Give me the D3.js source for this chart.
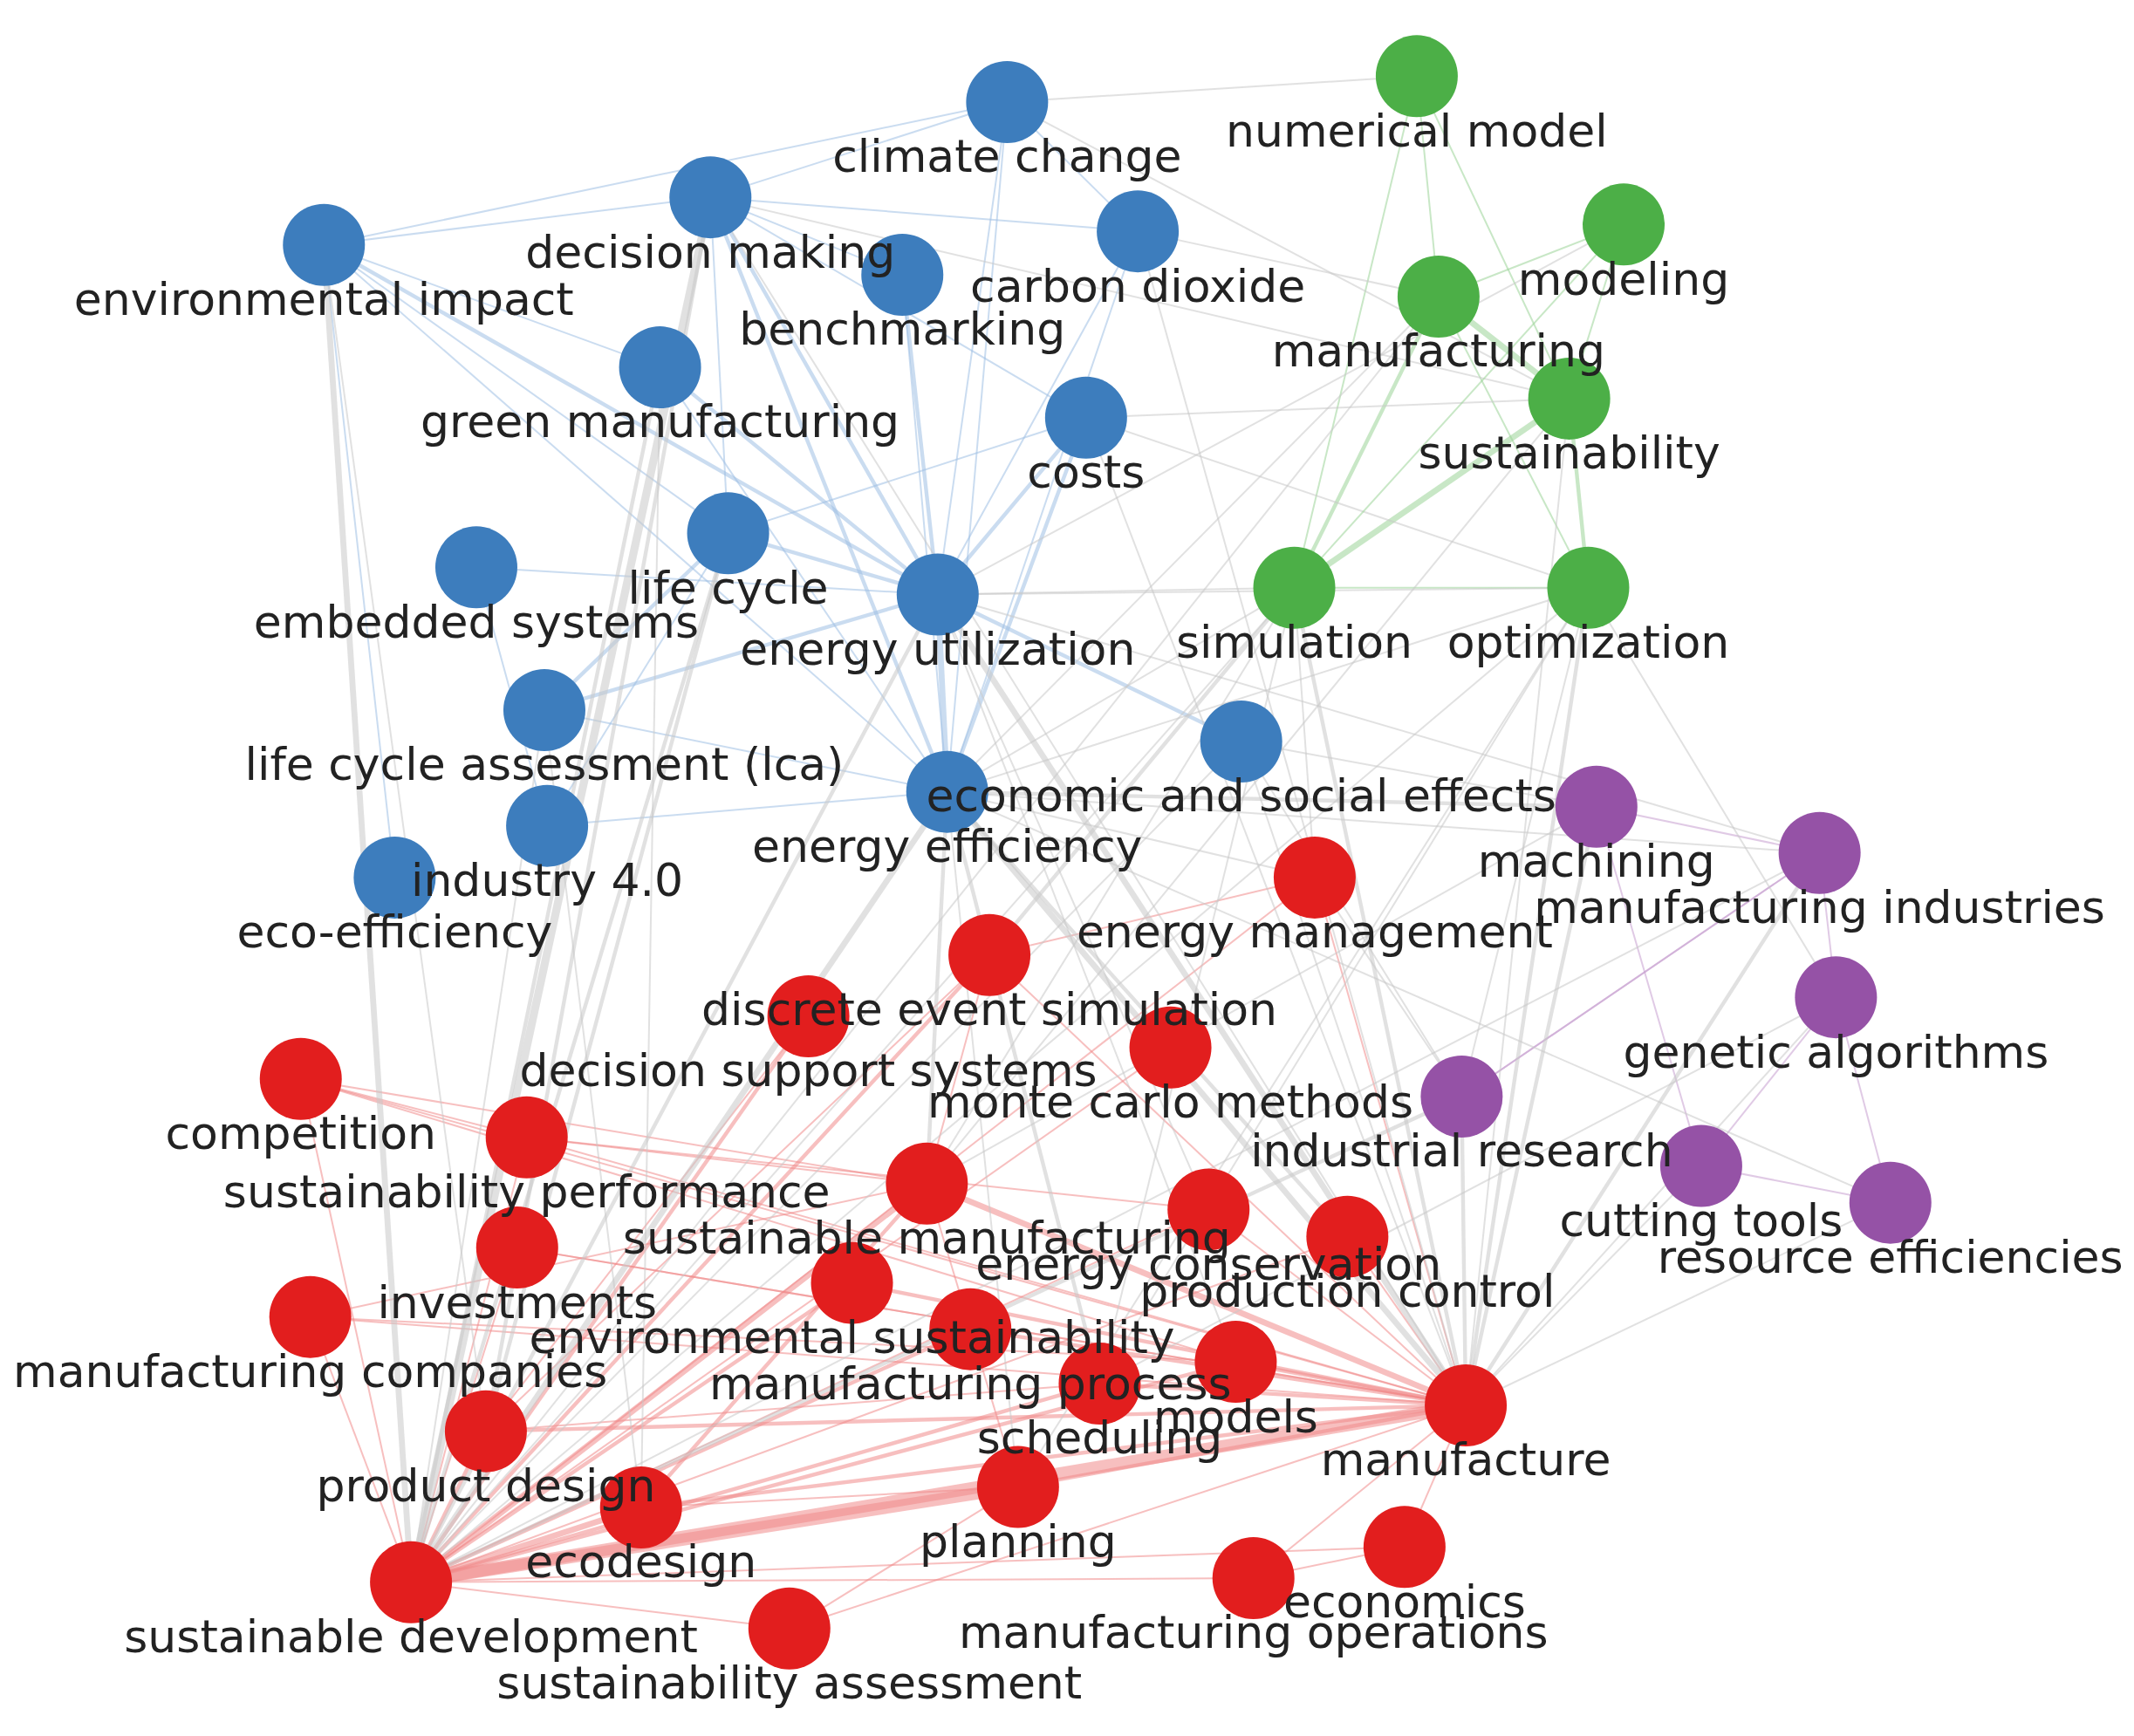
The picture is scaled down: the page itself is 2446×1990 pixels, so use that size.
<!DOCTYPE html>
<html><head><meta charset="utf-8">
<script src="https://cdn.jsdelivr.net/npm/d3@7"></script>
<style>body{margin:0;background:#fff}</style>
</head><body>
<svg id="chart" width="2446" height="1990"></svg>
<script>
// keyword map, node positions (layout units ~1568x1276)
var blueNodes = [
  ["climate change",740,75],["decision making",522,145],["environmental impact",238,180],
  ["carbon dioxide",836,170],["benchmarking",663,202],["green manufacturing",485,270],
  ["costs",798,307],["life cycle",535,392],["embedded systems",350,417],
  ["energy utilization",689,437],["life cycle assessment (lca)",400,522],
  ["economic and social effects",912,545],["energy efficiency",696,582],
  ["industry 4.0",402,607],["eco-efficiency",290,645]
];
var greenNodes = [
  ["numerical model",1041,56],["modeling",1193,165],["manufacturing",1057,218],
  ["sustainability",1153,293],["simulation",951,432],["optimization",1167,432]
];
var purpleNodes = [
  ["machining",1173,593],["manufacturing industries",1337,627],["genetic algorithms",1349,733],
  ["industrial research",1074,806],["cutting tools",1250,857],["resource efficiencies",1389,884]
];
var redNodes = [
  ["energy management",966,645],["discrete event simulation",727,702],
  ["decision support systems",594,747],["monte carlo methods",860,770],
  ["competition",221,793],["sustainability performance",387,836],
  ["sustainable manufacturing",681,870],["energy conservation",888,889],
  ["production control",990,909],["investments",380,917],
  ["environmental sustainability",626,943],["manufacturing companies",228,968],
  ["manufacturing process",713,977],["models",908,1001],["scheduling",808,1017],
  ["manufacture",1077,1033],["product design",357,1052],["ecodesign",471,1108],
  ["planning",748,1093],["economics",1032,1137],["sustainable development",302,1163],
  ["manufacturing operations",921,1160],["sustainability assessment",580,1197]
];
// links: [source, target, weight]
var links = [
  ["energy utilization","decision making",2],["energy utilization","climate change",1],
  ["energy utilization","carbon dioxide",1],["energy utilization","benchmarking",2],
  ["energy utilization","green manufacturing",2],["energy utilization","costs",2],
  ["energy utilization","life cycle",2],["energy utilization","environmental impact",2],
  ["energy utilization","energy efficiency",3],["energy utilization","economic and social effects",2],
  ["energy utilization","embedded systems",1],["energy utilization","life cycle assessment (lca)",2],
  ["decision making","environmental impact",1],["decision making","climate change",1],
  ["decision making","carbon dioxide",1],["decision making","benchmarking",1],
  ["decision making","costs",1],["decision making","life cycle",1],["decision making","energy efficiency",2],
  ["environmental impact","life cycle",1],["environmental impact","green manufacturing",1],
  ["environmental impact","energy efficiency",1],["climate change","carbon dioxide",1],
  ["climate change","energy efficiency",1],["climate change","environmental impact",1],
  ["carbon dioxide","energy efficiency",1],["costs","energy efficiency",2],["costs","life cycle",1],
  ["life cycle","life cycle assessment (lca)",2],["life cycle","industry 4.0",1],
  ["green manufacturing","energy efficiency",1],["embedded systems","industry 4.0",1],
  ["eco-efficiency","environmental impact",1],["industry 4.0","energy efficiency",1],
  ["benchmarking","energy efficiency",1],["life cycle assessment (lca)","energy efficiency",1],
  ["numerical model","manufacturing",1],["numerical model","sustainability",1],
  ["numerical model","simulation",1],["modeling","manufacturing",1],["modeling","sustainability",1],
  ["manufacturing","sustainability",3],["manufacturing","simulation",2],["manufacturing","optimization",1],
  ["sustainability","simulation",3],["sustainability","optimization",2],["simulation","optimization",1],
  ["machining","manufacturing industries",1],["machining","cutting tools",1],
  ["manufacturing industries","genetic algorithms",1],["manufacturing industries","industrial research",1],
  ["genetic algorithms","cutting tools",1],["cutting tools","resource efficiencies",1],
  ["industrial research","manufacturing industries",1],["genetic algorithms","resource efficiencies",1],
  ["sustainable development","ecodesign",3],["sustainable development","planning",6],
  ["sustainable development","manufacture",6],["sustainable development","sustainable manufacturing",3],
  ["sustainable development","environmental sustainability",2],["sustainable development","product design",2],
  ["sustainable development","manufacturing process",2],["sustainable development","scheduling",2],
  ["sustainable development","models",2],["sustainable development","competition",1],
  ["sustainable development","sustainability performance",1],["sustainable development","investments",1],
  ["sustainable development","manufacturing companies",1],["sustainable development","discrete event simulation",2],
  ["sustainable development","decision support systems",2],["sustainable development","energy management",1],
  ["sustainable development","monte carlo methods",1],["sustainable development","energy conservation",1],
  ["sustainable development","production control",1],["sustainable development","economics",1],
  ["sustainable development","manufacturing operations",1],["sustainable development","sustainability assessment",1],
  ["manufacture","sustainable manufacturing",3],["manufacture","planning",2],
  ["manufacture","environmental sustainability",2],["manufacture","manufacturing process",2],
  ["manufacture","scheduling",2],["manufacture","models",2],["manufacture","product design",2],
  ["manufacture","ecodesign",2],["manufacture","energy management",1],["manufacture","production control",1],
  ["manufacture","energy conservation",1],["manufacture","economics",1],["manufacture","manufacturing companies",1],
  ["manufacture","competition",1],["manufacture","sustainability performance",1],["manufacture","investments",1],
  ["manufacture","discrete event simulation",1],["manufacture","manufacturing operations",1],
  ["competition","sustainable manufacturing",1],["competition","sustainability performance",1],
  ["competition","models",1],["sustainability performance","sustainable manufacturing",1],
  ["sustainability performance","energy conservation",1],["sustainable manufacturing","ecodesign",2],
  ["sustainable manufacturing","discrete event simulation",1],["sustainable manufacturing","planning",1],
  ["discrete event simulation","energy management",1],["discrete event simulation","product design",1],
  ["decision support systems","product design",1],["investments","manufacture",1],
  ["manufacturing companies","sustainable manufacturing",1],["manufacturing companies","models",1],
  ["product design","scheduling",1],["ecodesign","planning",1],["economics","manufacturing operations",1],
  ["sustainability assessment","planning",1],["sustainability assessment","manufacture",1],
  // cross-cluster
  ["energy efficiency","manufacture",3],["energy efficiency","sustainable development",3],
  ["energy efficiency","sustainable manufacturing",2],["energy efficiency","energy management",1],
  ["energy efficiency","scheduling",2],["energy efficiency","planning",1],["energy efficiency","optimization",1],
  ["energy efficiency","simulation",1],["energy efficiency","production control",2],
  ["energy utilization","manufacture",3],["energy utilization","sustainable development",2],
  ["energy utilization","energy conservation",1],["energy utilization","models",1],
  ["energy utilization","simulation",1],["energy utilization","optimization",1],
  ["decision making","sustainable development",4],["decision making","manufacture",1],
  ["decision making","product design",2],["decision making","sustainability",1],
  ["environmental impact","sustainable development",3],["environmental impact","product design",1],
  ["green manufacturing","sustainable development",2],["green manufacturing","ecodesign",1],
  ["life cycle","sustainable development",2],["life cycle","product design",2],
  ["life cycle assessment (lca)","ecodesign",1],["life cycle assessment (lca)","sustainable development",1],
  ["costs","manufacture",1],["costs","sustainability",1],["costs","optimization",1],
  ["climate change","numerical model",1],["climate change","sustainability",1],
  ["carbon dioxide","manufacturing",1],["carbon dioxide","manufacture",1],
  ["economic and social effects","manufacture",1],["economic and social effects","sustainable development",1],
  ["economic and social effects","industrial research",1],["economic and social effects","machining",1],
  ["simulation","manufacture",2],["simulation","discrete event simulation",2],["simulation","scheduling",1],
  ["simulation","sustainable development",1],["simulation","energy management",1],["simulation","sustainable manufacturing",1],
  ["optimization","manufacture",2],["optimization","scheduling",1],["optimization","sustainable development",1],
  ["optimization","genetic algorithms",1],["optimization","planning",1],["optimization","industrial research",1],
  ["sustainability","manufacture",1],["sustainability","sustainable manufacturing",1],
  ["manufacturing","sustainable development",1],["manufacturing","energy efficiency",1],
  ["modeling","simulation",1],["modeling","energy utilization",1],
  ["machining","manufacture",2],["machining","energy efficiency",2],["machining","sustainable manufacturing",1],
  ["manufacturing industries","manufacture",2],["manufacturing industries","energy efficiency",1],
  ["manufacturing industries","sustainable development",1],["manufacturing industries","energy utilization",1],
  ["industrial research","manufacture",2],["industrial research","sustainable development",2],
  ["industrial research","energy management",1],["cutting tools","manufacture",1],
  ["genetic algorithms","manufacture",1],["genetic algorithms","scheduling",1],
  ["resource efficiencies","manufacture",1],["resource efficiencies","energy efficiency",1]
];

var colors = {blue:"#3d7dbd", green:"#4caf47", purple:"#9552a6", red:"#e21e1e"};
var linkTint = {blue:"#9ec0e4", green:"#9ad497", purple:"#c79fd0", red:"#f08a8a"};

var nodes = [];
[[blueNodes,"blue"],[greenNodes,"green"],[purpleNodes,"purple"],[redNodes,"red"]].forEach(function(g){
  g[0].forEach(function(d){ nodes.push({name:d[0], x:d[1], y:d[2], group:g[1]}); });
});
var byName = {};
nodes.forEach(function(n){ byName[n.name] = n; });

var x = d3.scaleLinear().domain([0,1568]).range([0,2446]);
var y = d3.scaleLinear().domain([0,1276]).range([0,1990]);
var w = d3.scaleLinear().domain([1,6]).range([2,14]);

var svg = d3.select("#chart");

svg.append("g").selectAll("line").data(links).enter().append("line")
  .attr("x1", function(d){ return x(byName[d[0]].x); })
  .attr("y1", function(d){ return y(byName[d[0]].y); })
  .attr("x2", function(d){ return x(byName[d[1]].x); })
  .attr("y2", function(d){ return y(byName[d[1]].y); })
  .attr("stroke", function(d){
    var a = byName[d[0]].group, b = byName[d[1]].group;
    return a == b ? linkTint[a] : "#c8c8c8";
  })
  .attr("stroke-opacity", 0.55)
  .attr("stroke-width", function(d){ return w(d[2]); });

svg.append("g").selectAll("circle").data(nodes).enter().append("circle")
  .attr("cx", function(d){ return x(d.x); })
  .attr("cy", function(d){ return y(d.y); })
  .attr("r", 47)
  .attr("fill", function(d){ return colors[d.group]; });

svg.append("g").selectAll("text").data(nodes).enter().append("text")
  .attr("x", function(d){ return x(d.x); })
  .attr("y", function(d){ return y(d.y + 40) + 18; })
  .attr("text-anchor", "middle")
  .attr("font-family", "DejaVu Sans, sans-serif")
  .attr("font-size", 52)
  .attr("fill", "#222")
  .text(function(d){ return d.name; });
</script>
</body></html>
